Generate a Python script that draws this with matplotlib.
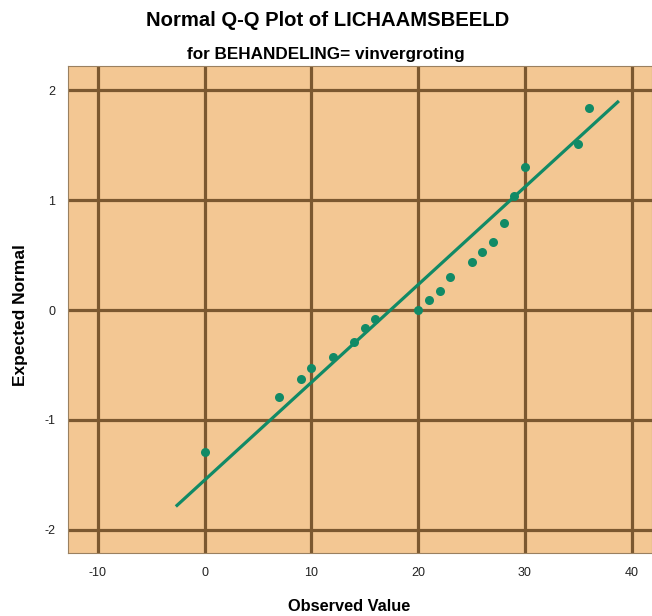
import matplotlib.pyplot as plt

# observed LICHAAMSBEELD scores and their expected normal quantiles
observed = [0, 7, 9, 10, 12, 14, 15, 16, 20, 21, 22, 23, 25, 26, 27, 28, 29, 30, 35, 36]
expected = [-1.29, -0.79, -0.63, -0.53, -0.43, -0.29, -0.16, -0.08, 0.0, 0.09,
            0.17, 0.30, 0.44, 0.53, 0.62, 0.79, 1.04, 1.30, 1.51, 1.84]

# reference line: expected = (x - mean) / sd
line_mean = 17.4
line_sd = 11.25
line_x = [-2.7, 38.8]

x_ticks = [-10, 0, 10, 20, 30, 40]
y_ticks = [-2, -1, 0, 1, 2]

bg = "#f3c793"
grid_col = "#7b5830"
green = "#118a66"

plt.rcParams["font.family"] = ["Liberation Sans", "DejaVu Sans"]
plt.rcParams["axes.unicode_minus"] = False

fig = plt.figure(figsize=(6.52, 6.16), dpi=100)
ax = fig.add_axes([68 / 652, 63 / 616, 584 / 652, 487 / 616])
ax.set_facecolor(bg)

ax.set_xlim(-12.8, 41.9)
ax.set_ylim(-2.21, 2.22)
ax.set_xticks(x_ticks)
ax.set_yticks(y_ticks)
ax.grid(True, color=grid_col, linewidth=2.3)
ax.set_axisbelow(True)
ax.tick_params(length=0, labelsize=9, colors="#222222", pad=10)
ax.tick_params(axis="y", pad=9)
for s in ax.spines.values():
    s.set_color("#9a8060")
    s.set_linewidth(0.8)

line_y = [(x - line_mean) / line_sd for x in line_x]
ax.plot(line_x, line_y, color=green, linewidth=2.3, solid_capstyle="butt")
ax.plot(observed, expected, "o", color=green, markersize=6.5, markeredgewidth=0)

ax.set_xlabel("Observed Value", fontsize=11.8, fontweight="bold", va="center")
ax.xaxis.set_label_coords(0.481, -0.109)
ax.set_ylabel("Expected Normal", fontsize=12.5, fontweight="bold", va="center")
ax.yaxis.set_label_coords(-0.082, 0.489)

fig.text(328 / 652, 1 - 20 / 616, "Normal Q-Q Plot of LICHAAMSBEELD", ha="center",
         va="center", fontsize=14.6, fontweight="bold")
fig.text(326 / 652, 1 - 55 / 616, "for BEHANDELING= vinvergroting", ha="center",
         va="center", fontsize=12.3, fontweight="bold")

fig.savefig("out.png", dpi=100)
